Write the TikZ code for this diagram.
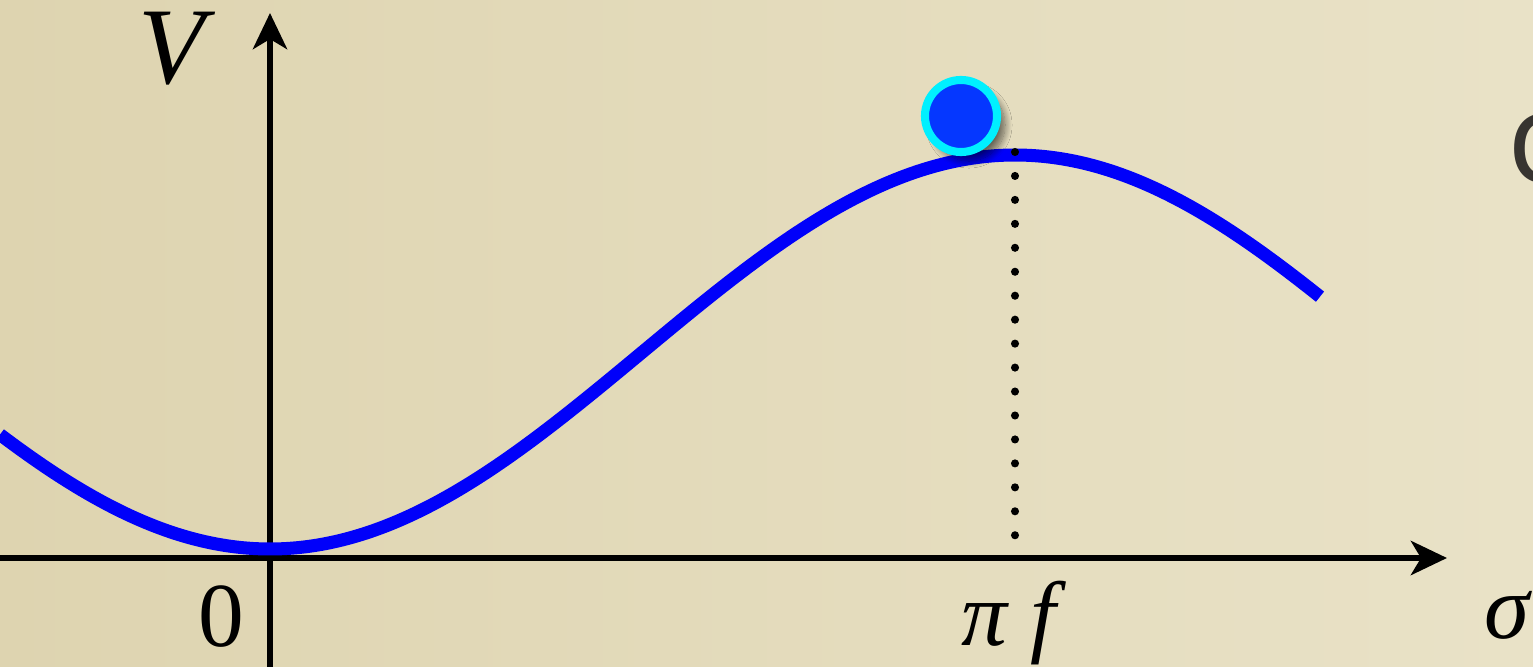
\documentclass[tikz,border=0pt]{standalone}
\usepackage{fontspec}
\newfontfamily\cfont{Open Sans}
\newfontfamily\lblfont{Liberation Serif}
\usetikzlibrary{arrows.meta,shadows.blur}
\definecolor{bgL}{RGB}{222,212,176}
\definecolor{bgR}{RGB}{233,226,199}
\definecolor{ballblue}{RGB}{5,55,255}
\definecolor{ringcyan}{RGB}{0,240,255}
\definecolor{curveblue}{RGB}{0,0,250}
\definecolor{cgray}{RGB}{55,52,48}
\tikzset{
  axis/.style={line width=1.8pt, draw=black,
    -{Stealth[length=0.36cm,width=0.34cm,inset=0.1cm]}},
  curve/.style={line width=3.7pt, draw=curveblue},
  dotline/.style={line width=2.3pt, line cap=round, dash pattern=on 0pt off 0.2394cm},
  lbl/.style={font=\lblfont\fontsize{26}{30}\selectfont, inner sep=0pt, anchor=base},
  ballstyle/.style={circle, minimum size=0.72cm, inner sep=0pt, fill=ballblue,
    draw=ringcyan, line width=2.3pt,
    blur shadow={shadow xshift=0.08cm, shadow yshift=-0.09cm, shadow blur steps=12, shadow blur radius=0.07cm, shadow opacity=55}}
}
\begin{document}
\begin{tikzpicture}[x=0.01cm,y=-0.01cm]
\useasboundingbox (0,0) rectangle (1533,667);
\clip (0,0) rectangle (1533,667);
\shade[left color=bgL, right color=bgR] (0,0) rectangle (1533,667);
% axes
\coordinate (xs) at (0,558);
\coordinate (xe) at (1447,558);
\coordinate (ys) at (270,667);
\coordinate (ye) at (270,13);
\draw[axis] (xs) -- (xe);
\draw[axis] (ys) -- (ye);
% curve
\draw[curve] plot[domain=0:1320, samples=220, smooth] (\x,{549-197*(1-cos(0.24161*(\x-270)))});
% dotted line
\coordinate (dtop) at (1015,152);
\coordinate (dbot) at (1015,536);
\draw[dotline] (dtop) -- (dbot);
% ball
\node[ballstyle] (ball) at (961,116) {};
% labels
\node[lbl, font=\lblfont\fontsize{31}{34}\selectfont] (V) at (172,84) {\itshape V};
\node[lbl] (zero) at (221,646) {0};
\node[lbl] (pif) at (1009,645) {\itshape π f};
\node[lbl] (sigma) at (1507,638) {\itshape σ};
\node[font=\cfont\fontsize{36}{40}\selectfont, text=cgray, inner sep=0pt, anchor=base west] (c) at (1507,183) {c};
\end{tikzpicture}
\end{document}
